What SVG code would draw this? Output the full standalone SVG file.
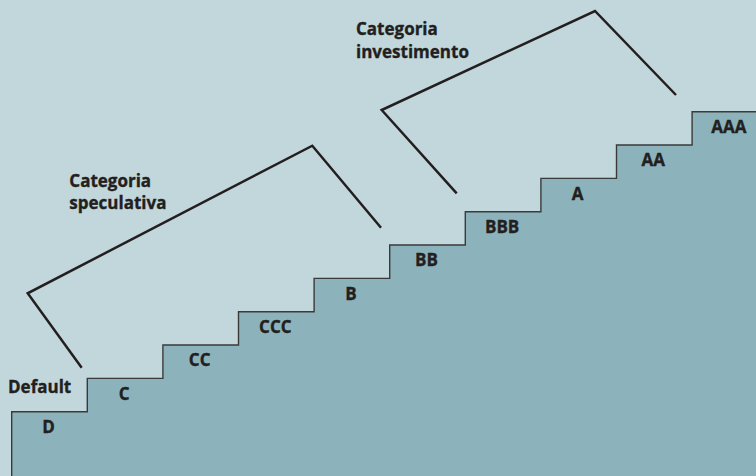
<svg xmlns="http://www.w3.org/2000/svg" width="756" height="476" viewBox="0 0 756 476">
  <style>
    .bg { fill: #c2d7dc; }
    .stairs { fill: #8cb3bb; stroke: none; }
    .edge { fill: none; stroke: #3a3a3a; stroke-width: 1.4; }
    .bracket { fill: none; stroke: #231f20; stroke-width: 2.5; stroke-linejoin: miter; }
    .lbl { font-family: "Open Sans", "Liberation Sans", sans-serif; font-weight: 700; font-size: 17px; fill: #231f20; stroke: #231f20; stroke-width: 0.35; }
    .step { text-anchor: middle; }
  </style>
  <rect class="bg" x="0" y="0" width="756" height="476"/>

  <!-- staircase -->
  <g id="staircase">
    <polygon class="stairs" points="11.7,476 11.7,411.7 87.3,411.7 87.3,378.4 162.9,378.4 162.9,345 238.5,345 238.5,311.7 314.1,311.7 314.1,278.4 389.7,278.4 389.7,245 465.3,245 465.3,211.7 540.9,211.7 540.9,178.4 616.5,178.4 616.5,145 692.1,145 692.1,111.7 756,111.7 756,476"/>
    <polyline class="edge" points="11.7,476 11.7,411.7 87.3,411.7 87.3,378.4 162.9,378.4 162.9,345 238.5,345 238.5,311.7 314.1,311.7 314.1,278.4 389.7,278.4 389.7,245 465.3,245 465.3,211.7 540.9,211.7 540.9,178.4 616.5,178.4 616.5,145 692.1,145 692.1,111.7 756,111.7"/>
  </g>

  <!-- rating steps -->
  <g id="step-D"><text class="lbl step" x="48.5" y="433">D</text></g>
  <g id="step-C"><text class="lbl step" x="124.1" y="399.7">C</text></g>
  <g id="step-CC"><text class="lbl step" x="199.7" y="366.3">CC</text></g>
  <g id="step-CCC"><text class="lbl step" x="275.3" y="333">CCC</text></g>
  <g id="step-B"><text class="lbl step" x="350.9" y="299.7">B</text></g>
  <g id="step-BB"><text class="lbl step" x="426.5" y="266.3">BB</text></g>
  <g id="step-BBB"><text class="lbl step" x="502.1" y="233">BBB</text></g>
  <g id="step-A"><text class="lbl step" x="577.7" y="199.7">A</text></g>
  <g id="step-AA"><text class="lbl step" x="653.3" y="166.3">AA</text></g>
  <g id="step-AAA"><text class="lbl step" x="728.9" y="133">AAA</text></g>

  <g id="default-label"><text class="lbl" x="8" y="393.3">Default</text></g>

  <!-- category brackets -->
  <g id="connectors">
    <polyline class="bracket" points="81.7,367.7 27.7,293.3 312.3,145.7 381,227.7"/>
    <polyline class="bracket" points="456.7,193.3 381.7,110 595,11 676,95"/>
  </g>

  <g id="cat-speculativa">
    <text class="lbl" x="69.3" y="186.7">Categoria</text>
    <text class="lbl" x="69.3" y="209.3">speculativa</text>
  </g>
  <g id="cat-investimento">
    <text class="lbl" x="356" y="35">Categoria</text>
    <text class="lbl" x="356" y="57.7">investimento</text>
  </g>
</svg>
